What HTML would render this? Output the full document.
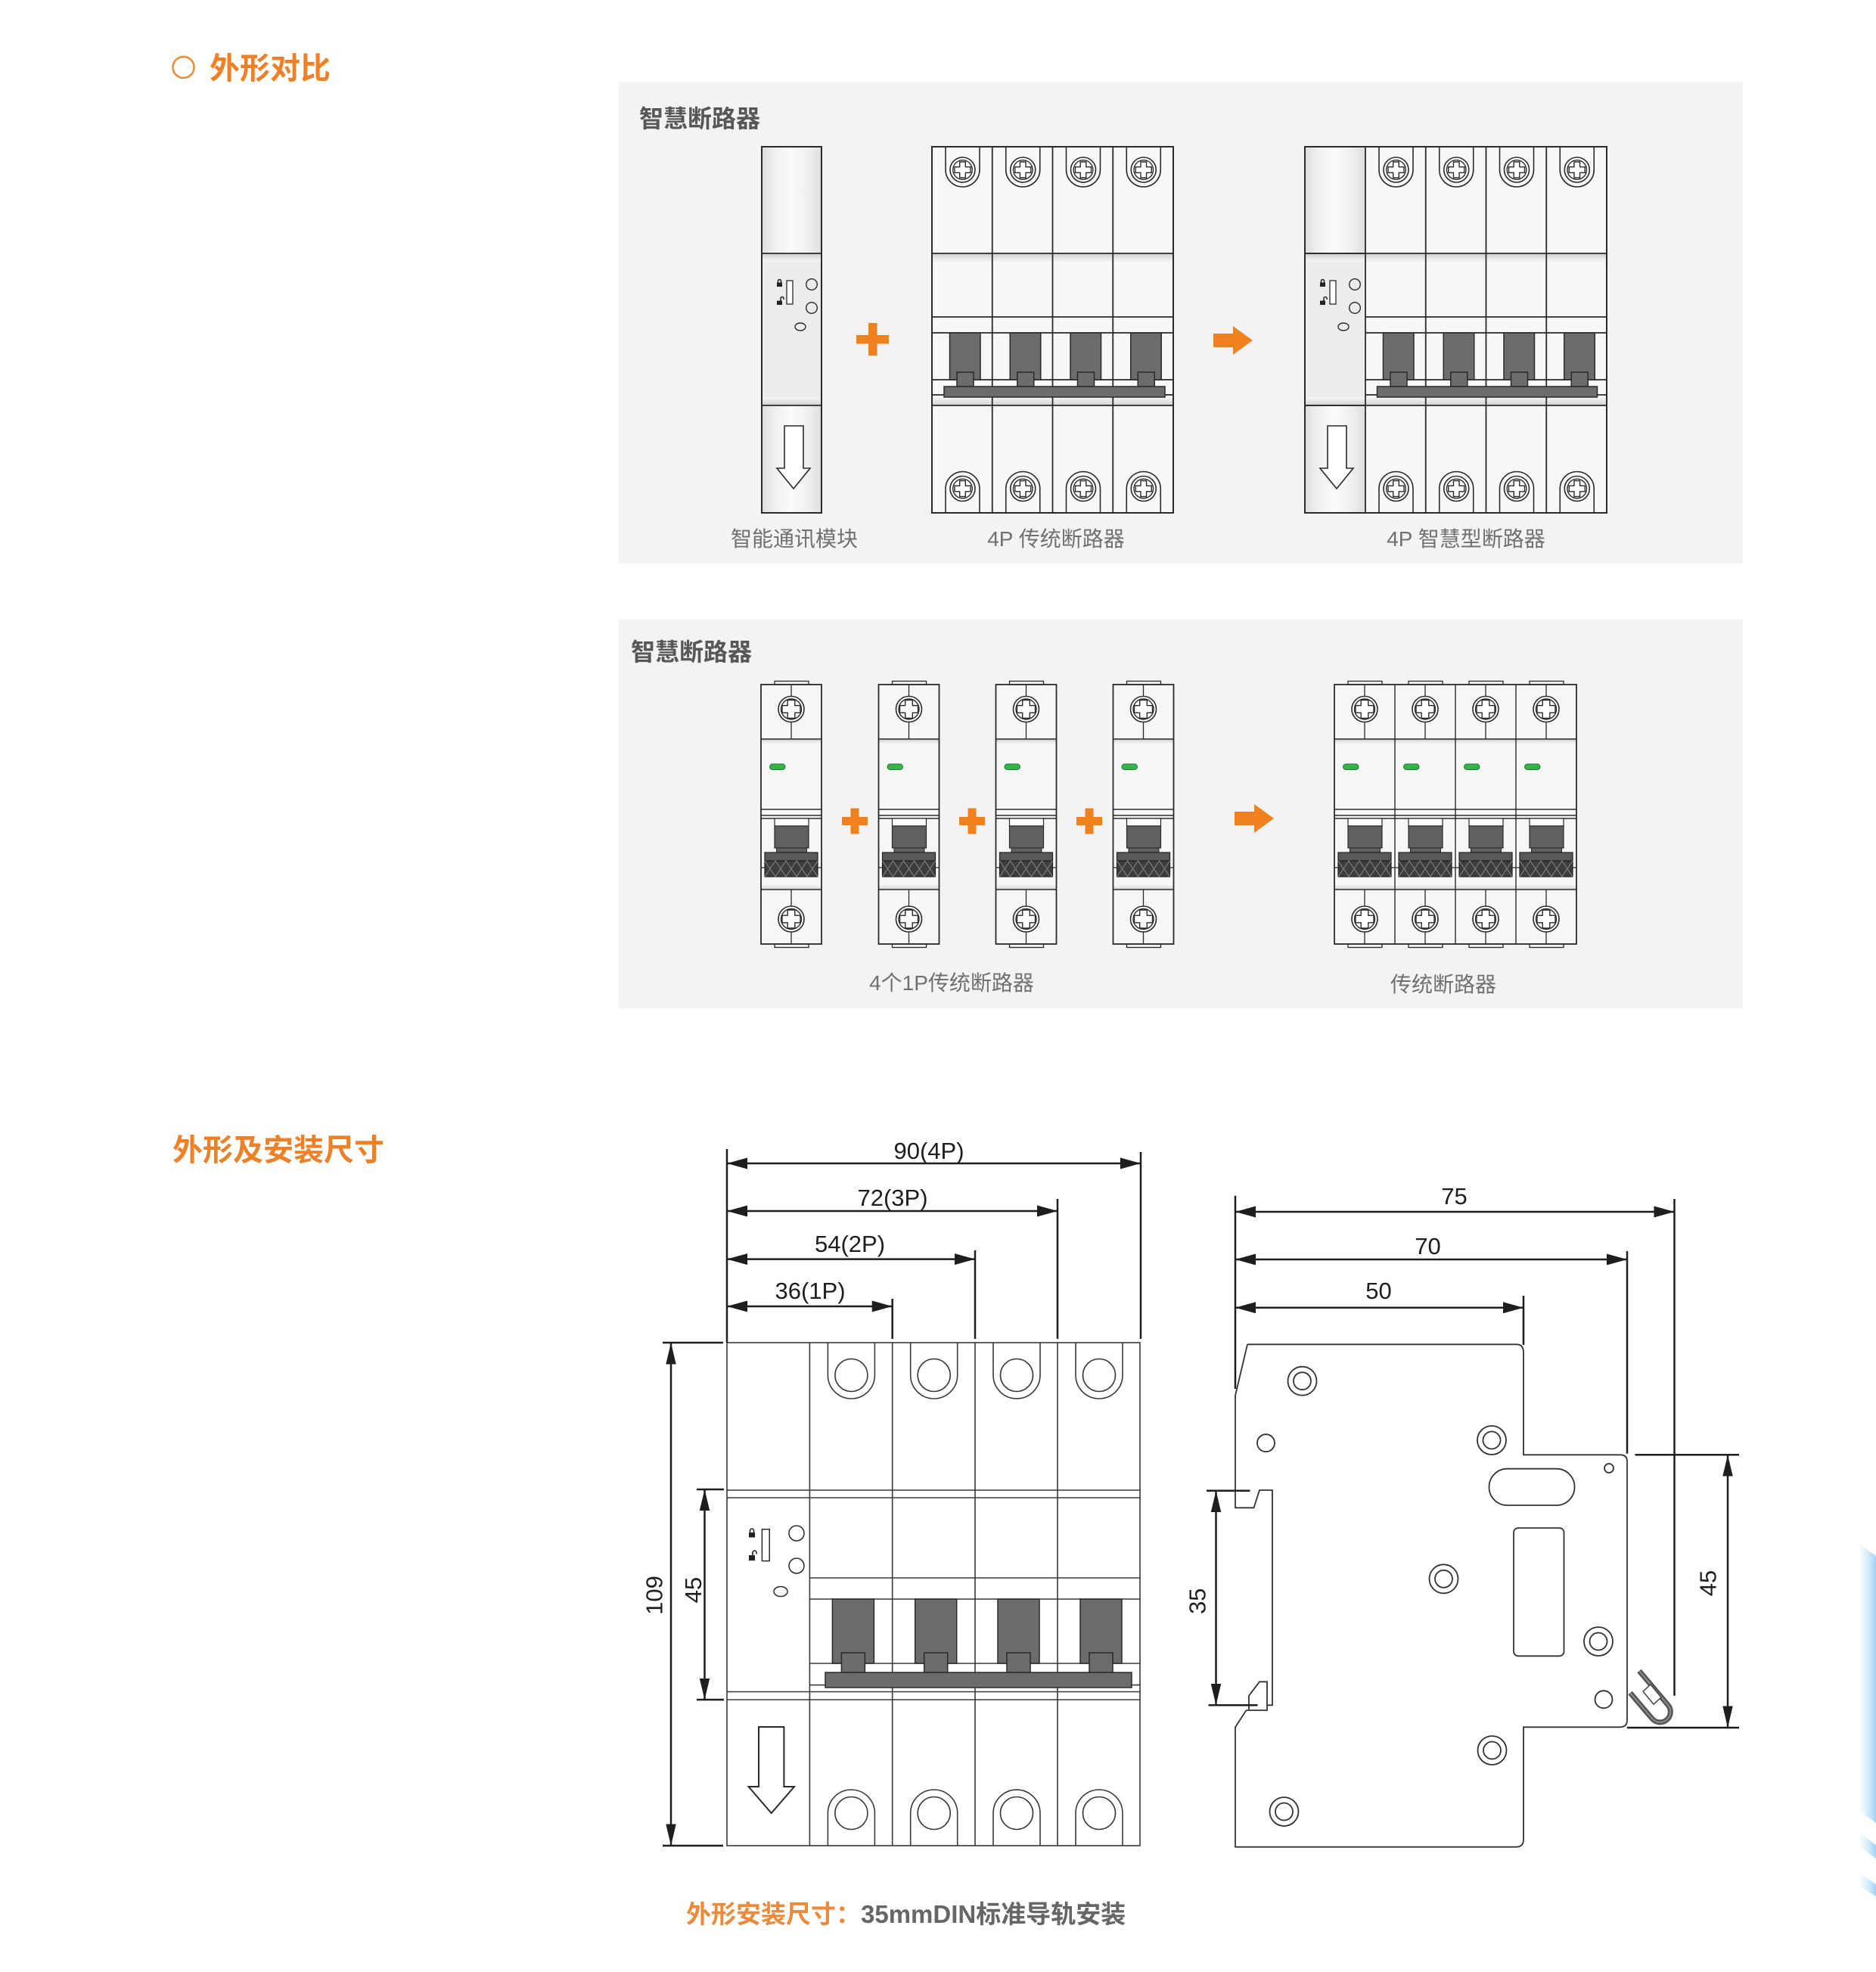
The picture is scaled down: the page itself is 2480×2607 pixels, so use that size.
<!DOCTYPE html>
<html><head><meta charset="utf-8">
<style>
html,body{margin:0;padding:0;background:#fff;}
body{width:2480px;height:2607px;position:relative;overflow:hidden;}
svg{position:absolute;left:0;top:0;}
text{font-family:"Liberation Sans","Noto Sans CJK SC",sans-serif;}
</style></head><body>
<svg width="2480" height="2607" viewBox="0 0 2480 2607" xmlns="http://www.w3.org/2000/svg">
<defs>
 <linearGradient id="bd" x1="0" y1="0" x2="0" y2="1"><stop offset="0" stop-color="#cfcfcf"/><stop offset="1" stop-color="#f6f6f6"/></linearGradient>
 <linearGradient id="bu" x1="0" y1="0" x2="0" y2="1"><stop offset="0" stop-color="#f6f6f6"/><stop offset="1" stop-color="#d2d2d2"/></linearGradient>
 <linearGradient id="mg" x1="0" y1="0" x2="1" y2="0"><stop offset="0" stop-color="#dcdcdc"/><stop offset="0.2" stop-color="#efefef"/><stop offset="0.5" stop-color="#fbfbfb"/><stop offset="0.8" stop-color="#eeeeee"/><stop offset="1" stop-color="#dedede"/></linearGradient>
 <linearGradient id="blue" x1="0" y1="0" x2="1" y2="0"><stop offset="0" stop-color="#e4f3fc" stop-opacity="0.3"/><stop offset="1" stop-color="#9fd2f4"/></linearGradient>

 <g id="scr"><circle r="16.5" fill="#fff" stroke="#2a2a2a" stroke-width="1.6"/><circle r="12.8" fill="none" stroke="#2a2a2a" stroke-width="1.4"/><path d="M-3.8,-10.5H3.8V-3.8H10.5V3.8H3.8V10.5H-3.8V3.8H-10.5V-3.8H-3.8Z" fill="#fff" stroke="#2a2a2a" stroke-width="1.4"/></g>
 <g id="scr2"><circle r="17" fill="#fff" stroke="#2a2a2a" stroke-width="1.6"/><circle r="13.5" fill="none" stroke="#2a2a2a" stroke-width="1.4"/><path d="M-4.8,-12H4.8V-4.8H12V4.8H4.8V12H-4.8V4.8H-12V-4.8H-4.8Z" fill="#fff" stroke="#2a2a2a" stroke-width="1.4"/></g>

 <g id="pole1">
  <path d="M18,194V224.5A22.5,22.5 0 0 0 63,224.5V194" fill="none" stroke="#2a2a2a" stroke-width="1.6"/>
  <path d="M18,678V646A22.5,22.5 0 0 1 63,646V678" fill="none" stroke="#2a2a2a" stroke-width="1.6"/>
  <use href="#scr" x="40.5" y="224.5"/>
  <use href="#scr" x="40.5" y="646"/>
  <rect x="23.5" y="440" width="40.5" height="62" fill="#6b6c6e" stroke="#2a2a2a" stroke-width="1.5"/>
  <rect x="33" y="492" width="22" height="19" fill="#6b6c6e" stroke="#2a2a2a" stroke-width="1.5"/>
 </g>

 <g id="mod">
  <rect x="0" y="194" width="79" height="484" fill="url(#mg)"/>
  <rect x="0" y="335" width="79" height="201" fill="#ececec"/>
  <rect x="0" y="335" width="79" height="11" fill="url(#bd)"/>
  <rect x="0" y="525" width="79" height="11" fill="url(#bu)"/>
  <path d="M0,335H79M0,536H79" stroke="#2a2a2a" stroke-width="1.8"/>
  <rect x="20" y="373.5" width="7" height="5.5" fill="#222"/>
  <path d="M21.5,374V371.5A2,2 0 0 1 25.5,371.5V374" fill="none" stroke="#222" stroke-width="1.5"/>
  <rect x="20" y="397.5" width="7" height="5.5" fill="#222"/>
  <path d="M25,398V394.5A2,2 0 0 1 29,394.5V396" fill="none" stroke="#222" stroke-width="1.5"/>
  <rect x="33" y="371" width="8" height="31" fill="#fff" stroke="#2a2a2a" stroke-width="1.3"/>
  <circle cx="66" cy="376" r="7.3" fill="none" stroke="#2a2a2a" stroke-width="1.4"/>
  <circle cx="66" cy="407" r="7.3" fill="none" stroke="#2a2a2a" stroke-width="1.4"/>
  <ellipse cx="51" cy="432" rx="7" ry="5" fill="none" stroke="#2a2a2a" stroke-width="1.4"/>
  <path d="M30,563H55V619H64L42,646L20,619H30Z" fill="#fff" stroke="#2a2a2a" stroke-width="1.6"/>
 </g>

 <g id="c2">
  <rect x="18" y="900.5" width="45" height="4.5" fill="#f3f3f3" stroke="#2a2a2a" stroke-width="1.3"/>
  <rect x="18" y="1248" width="45" height="4.5" fill="#f3f3f3" stroke="#2a2a2a" stroke-width="1.3"/>
  <path d="M40,905V977M40,1176V1248" stroke="#2a2a2a" stroke-width="1.3"/>
  <use href="#scr2" x="40" y="937.5"/>
  <use href="#scr2" x="40" y="1215"/>
  <rect x="11.5" y="1010" width="20.5" height="7.5" rx="3.75" fill="#36b34a" stroke="#1f7d35" stroke-width="1"/>
  <rect x="18" y="1082" width="45" height="10" fill="#fbfbfb" stroke="#2a2a2a" stroke-width="1.2"/>
  <rect x="18" y="1092" width="45" height="29" fill="#5f6062" stroke="#2a2a2a" stroke-width="1.2"/>
  <rect x="20.5" y="1121" width="40" height="6" fill="#5f6062" stroke="#2a2a2a" stroke-width="1"/>
  <path d="M0,1147H80" stroke="#2a2a2a" stroke-width="1.3"/>
  <rect x="5" y="1127" width="70" height="11" fill="#58595b" stroke="#222" stroke-width="1.2"/>
  <rect x="5" y="1138" width="70" height="21" fill="#3d3d3f" stroke="#222" stroke-width="1.2"/>
  <path d="M5,1138L19,1159L33,1138L47,1159L61,1138L75,1159M5,1159L19,1138L33,1159L47,1138L61,1159L75,1138" fill="none" stroke="#7a7a7a" stroke-width="1.2"/>
 </g>

 <g id="b1">
  <rect x="0" y="905" width="80" height="343" fill="#f6f6f6"/>
  <rect x="0" y="977" width="80" height="6" fill="url(#bd)"/>
  <rect x="0" y="1170" width="80" height="6" fill="url(#bu)"/>
  <path d="M0,977H80M0,1070H80M0,1078H80M0,1082H80M0,1176H80" stroke="#2a2a2a" stroke-width="1.4"/>
  <use href="#c2"/>
  <rect x="0" y="905" width="80" height="343" fill="none" stroke="#2a2a2a" stroke-width="1.8"/>
 </g>
</defs>

<!-- Title 1 -->
<circle cx="242.5" cy="89" r="14" fill="none" stroke="#ee8a34" stroke-width="2.5"/>
<text x="277" y="104" font-size="40" font-weight="700" fill="#ee8127">外形对比</text>

<!-- Panel 1 -->
<rect x="818" y="108" width="1486" height="637" fill="#f2f3f5"/>
<text x="845" y="168" font-size="32" font-weight="700" fill="#575757">智慧断路器</text>

<!-- module -->
<use href="#mod" x="1007"/>
<rect x="1007" y="194" width="79" height="484" fill="none" stroke="#2a2a2a" stroke-width="2"/>

<!-- plus -->
<rect x="1132" y="443" width="43" height="11.5" fill="#f0821e"/>
<rect x="1148" y="427" width="11.5" height="43" fill="#f0821e"/>

<!-- 4P traditional -->
<rect x="1232" y="194" width="319" height="484" fill="#f7f7f7"/>
<rect x="1232" y="335" width="319" height="11" fill="url(#bd)"/>
<rect x="1232" y="525" width="319" height="11" fill="url(#bu)"/>
<path d="M1232,335H1551M1232,419H1551M1232,440H1551M1232,502H1551M1232,522H1551M1232,536H1551M1311.75,194V678M1391.5,194V678M1471.25,194V678" stroke="#2a2a2a" stroke-width="1.8" fill="none"/>
<use href="#pole1" x="1232"/>
<use href="#pole1" x="1311.75"/>
<use href="#pole1" x="1391.5"/>
<use href="#pole1" x="1471.25"/>
<rect x="1248" y="511" width="292" height="14" fill="#6b6c6e" stroke="#2a2a2a" stroke-width="1.5"/>
<rect x="1232" y="194" width="319" height="484" fill="none" stroke="#2a2a2a" stroke-width="2"/>

<!-- arrow -->
<path d="M1604,441H1630V431L1656,450L1630,469V459H1604Z" fill="#f0821e"/>

<!-- 4P smart -->
<rect x="1805" y="194" width="319" height="484" fill="#f7f7f7"/>
<rect x="1805" y="335" width="319" height="11" fill="url(#bd)"/>
<rect x="1805" y="525" width="319" height="11" fill="url(#bu)"/>
<use href="#mod" x="1725"/>
<path d="M1725,335H2124M1805,419H2124M1805,440H2124M1805,502H2124M1805,522H2124M1725,536H2124M1805,194V678M1884.75,194V678M1964.5,194V678M2044.25,194V678" stroke="#2a2a2a" stroke-width="1.8" fill="none"/>
<use href="#pole1" x="1805"/>
<use href="#pole1" x="1884.75"/>
<use href="#pole1" x="1964.5"/>
<use href="#pole1" x="2044.25"/>
<rect x="1820.5" y="511" width="291" height="14" fill="#6b6c6e" stroke="#2a2a2a" stroke-width="1.5"/>
<rect x="1725" y="194" width="399" height="484" fill="none" stroke="#2a2a2a" stroke-width="2"/>

<g font-size="28" fill="#707070" text-anchor="middle">
<text x="1050" y="722">智能通讯模块</text>
<text x="1396" y="722">4P 传统断路器</text>
<text x="1938" y="722">4P 智慧型断路器</text>
</g>

<!-- Panel 2 -->
<rect x="818" y="819" width="1486" height="514" fill="#f2f3f5"/>
<text x="834" y="873" font-size="32" font-weight="700" fill="#575757">智慧断路器</text>

<use href="#b1" x="1006"/>
<use href="#b1" x="1161.5"/>
<use href="#b1" x="1316.5"/>
<use href="#b1" x="1471.5"/>

<g fill="#f0821e">
<rect x="1113" y="1080" width="34" height="11"/><rect x="1124.5" y="1068.5" width="11" height="34"/>
<rect x="1268" y="1080" width="34" height="11"/><rect x="1279.5" y="1068.5" width="11" height="34"/>
<rect x="1423" y="1080" width="34" height="11"/><rect x="1434.5" y="1068.5" width="11" height="34"/>
<path d="M1632,1073H1658V1063L1684,1082L1658,1101V1091H1632Z"/>
</g>

<!-- 4P traditional panel 2 -->
<rect x="1764" y="905" width="320" height="343" fill="#f6f6f6"/>
<rect x="1764" y="977" width="320" height="6" fill="url(#bd)"/>
<rect x="1764" y="1170" width="320" height="6" fill="url(#bu)"/>
<path d="M1764,977H2084M1764,1070H2084M1764,1078H2084M1764,1082H2084M1764,1176H2084M1844,905V1248M1924,905V1248M2004,905V1248" stroke="#2a2a2a" stroke-width="1.4"/>
<use href="#c2" x="1764"/>
<use href="#c2" x="1844"/>
<use href="#c2" x="1924"/>
<use href="#c2" x="2004"/>
<rect x="1764" y="905" width="320" height="343" fill="none" stroke="#2a2a2a" stroke-width="1.8"/>

<g font-size="28" fill="#707070" text-anchor="middle">
<text x="1258" y="1309">4个1P传统断路器</text>
<text x="1908" y="1311">传统断路器</text>
</g>

<!-- Title 2 -->
<text x="228" y="1534" font-size="40" font-weight="700" fill="#ee8127">外形及安装尺寸</text>

<!-- Front view -->
<g stroke="#3a3a3a" stroke-width="1.6" fill="none">
<rect x="961" y="1775" width="546" height="665" fill="#fff"/>
<path d="M1070.4,1775V2440M1179.7,1775V2440M1289,1775V2440M1398,1775V2440"/>
<path d="M961,1970H1507M961,1980H1507M961,2236.5H1507M961,2247H1507"/>
<path d="M1070.4,2086H1507M1070.4,2114H1507M1070.4,2199H1507M1070.4,2227.6H1507"/>
<path d="M1094.4,1775V1818A31,31 0 0 0 1156.4,1818V1775M1203.7,1775V1818A31,31 0 0 0 1265.7,1818V1775M1313,1775V1818A31,31 0 0 0 1375,1818V1775M1422,1775V1818A31,31 0 0 0 1484,1818V1775"/>
<circle cx="1125.4" cy="1818" r="21.5"/><circle cx="1234.7" cy="1818" r="21.5"/><circle cx="1344" cy="1818" r="21.5"/><circle cx="1453" cy="1818" r="21.5"/>
<path d="M1094.4,2440V2397A31,31 0 0 1 1156.4,2397V2440M1203.7,2440V2397A31,31 0 0 1 1265.7,2397V2440M1313,2440V2397A31,31 0 0 1 1375,2397V2440M1422,2440V2397A31,31 0 0 1 1484,2397V2440"/>
<circle cx="1125.4" cy="2397" r="21.5"/><circle cx="1234.7" cy="2397" r="21.5"/><circle cx="1344" cy="2397" r="21.5"/><circle cx="1453" cy="2397" r="21.5"/>
</g>
<g fill="#6b6c6e" stroke="#2a2a2a" stroke-width="1.5">
<rect x="1100.4" y="2114" width="55" height="85"/><rect x="1209.7" y="2114" width="55" height="85"/><rect x="1319" y="2114" width="55" height="85"/><rect x="1428" y="2114" width="55" height="85"/>
<rect x="1112.4" y="2185" width="31" height="26"/><rect x="1221.7" y="2185" width="31" height="26"/><rect x="1331" y="2185" width="31" height="26"/><rect x="1440" y="2185" width="31" height="26"/>
<rect x="1091" y="2211" width="405" height="20"/>
</g>
<!-- module items front -->
<rect x="990" y="2026" width="8" height="6.5" fill="#222"/>
<path d="M991.5,2026.5V2023.5A2.5,2.5 0 0 1 996.5,2023.5V2026.5" fill="none" stroke="#222" stroke-width="1.6"/>
<rect x="990" y="2056" width="8" height="7" fill="#222"/>
<path d="M995,2056.5V2052.5A2.5,2.5 0 0 1 1000,2052.5V2054.5" fill="none" stroke="#222" stroke-width="1.6"/>
<g fill="none" stroke="#2a2a2a" stroke-width="1.5">
<rect x="1007.4" y="2021.7" width="9.8" height="41.9" fill="#fff"/>
<circle cx="1053" cy="2027" r="10"/><circle cx="1053" cy="2070" r="10"/>
<ellipse cx="1032" cy="2104" rx="9" ry="6.5"/>
<path d="M1003,2283H1036.4V2362H1050L1019.7,2397L989.6,2362H1003Z" fill="#fff" stroke-width="2"/>
</g>

<!-- front dims -->
<g stroke="#1e1e1e" stroke-width="2.5" fill="none">
<path d="M961,1519V1775M1508,1523V1770M1398,1585V1770M1289,1653V1770M1179.7,1717V1770"/>
<path d="M961,1538H1508M961,1601H1398M961,1664.6H1289M961,1727H1179.7"/>
<path d="M887,1775V2440M876,1775H956M876,2440H956M931.5,1969V2247M921,1969H957M921,2247H957"/>
</g>
<g fill="#1e1e1e">
<path d="M961,1538L988,1530.5V1545.5ZM1508,1538L1481,1530.5V1545.5Z"/>
<path d="M961,1601L988,1593.5V1608.5ZM1398,1601L1371,1593.5V1608.5Z"/>
<path d="M961,1664.6L988,1657.1V1672.1ZM1289,1664.6L1262,1657.1V1672.1Z"/>
<path d="M961,1727L988,1719.5V1734.5ZM1179.7,1727L1152.7,1719.5V1734.5Z"/>
<path d="M887,1775L880.3,1803.5H893.7ZM887,2440L880.3,2411.5H893.7Z"/>
<path d="M931.5,1969L924.8,1997H938.2ZM931.5,2247L924.8,2219H938.2Z"/>
</g>
<g font-size="31" fill="#1e1e1e" text-anchor="middle">
<text x="1228" y="1532">90(4P)</text>
<text x="1180" y="1594">72(3P)</text>
<text x="1123.5" y="1655">54(2P)</text>
<text x="1071" y="1717">36(1P)</text>
<text transform="translate(864.5,2109) rotate(-90)" y="11">109</text>
<text transform="translate(916,2102) rotate(-90)" y="11">45</text>
<text x="1922.5" y="1592">75</text>
<text x="1887.5" y="1658">70</text>
<text x="1822.5" y="1717">50</text>
<text transform="translate(1582.5,2116.7) rotate(-90)" y="11">35</text>
<text transform="translate(2257.5,2093) rotate(-90)" y="11">45</text>
</g>

<!-- Side view -->
<g stroke="#333" stroke-width="1.8" fill="none">
<path d="M1649,1777.3H2005Q2014,1777.3 2014,1788V1923.3H2142Q2151,1923.3 2151,1932V2274Q2151,2283.3 2141,2283.3H2014V2432Q2014,2441.7 2004,2441.7H1633V2283.3L1647.5,2261" fill="#fff"/>
<path d="M1649,1777.3L1633,1845V1993.3H1657.5L1665,1970H1682V2254.3H1675"/>
<path d="M1647.5,2261H1675V2223.3H1665L1651,2241.7V2261"/>
<circle cx="1721.5" cy="1825.7" r="19"/><circle cx="1721.5" cy="1825.7" r="11.5"/>
<circle cx="1673.5" cy="1907.7" r="11.5"/>
<circle cx="1972" cy="1904" r="19"/><circle cx="1972" cy="1904" r="11.5"/>
<circle cx="2127" cy="1941" r="6"/>
<rect x="1968.5" y="1941.7" width="113" height="48.3" rx="24"/>
<circle cx="1908.5" cy="2087.3" r="19"/><circle cx="1908.5" cy="2087.3" r="11.5"/>
<rect x="2001" y="2020" width="66.5" height="169.3" rx="6"/>
<circle cx="2113" cy="2170" r="19"/><circle cx="2113" cy="2170" r="11.5"/>
<circle cx="2120" cy="2246.7" r="11.5"/>
<circle cx="1972.5" cy="2314" r="19"/><circle cx="1972.5" cy="2314" r="11.5"/>
<circle cx="1697.5" cy="2395" r="19"/><circle cx="1697.5" cy="2395" r="11.5"/>
</g>
<!-- hook -->
<path d="M2167,2209L2205,2254A13,13 0 0 1 2184,2272L2155,2238" fill="none" stroke="#555" stroke-width="7"/>
<path d="M2167,2209L2205,2254A13,13 0 0 1 2184,2272L2155,2238" fill="none" stroke="#8a8a8a" stroke-width="2"/>
<path d="M2172,2236L2182,2227L2196,2244L2186,2253Z" fill="#fff" stroke="#444" stroke-width="1.5"/>

<!-- side dims -->
<g stroke="#1e1e1e" stroke-width="2.5" fill="none">
<path d="M1633,1580.7V1836M2213.5,1585V2241.7M2151,1654V1921.7M2014,1713V1778"/>
<path d="M1633,1602H2213.5M1633,1665H2151M1633,1728.7H2014"/>
<path d="M1607.5,1970.7V2254.3M1595,1970.7H1652.5M1597.5,2254.3H1662.5"/>
<path d="M2284,1923.3V2284M2161.5,1923.3H2299M2151,2284H2299"/>
</g>
<g fill="#1e1e1e">
<path d="M1633,1602L1660,1594.5V1609.5ZM2213.5,1602L2186.5,1594.5V1609.5Z"/>
<path d="M1633,1665L1660,1657.5V1672.5ZM2151,1665L2124,1657.5V1672.5Z"/>
<path d="M1633,1728.7L1660,1721.2V1736.2ZM2014,1728.7L1987,1721.2V1736.2Z"/>
<path d="M1607.5,1970.7L1600.8,1999H1614.2ZM1607.5,2254.3L1600.8,2226H1614.2Z"/>
<path d="M2284,1923.3L2277.3,1951.5H2290.7ZM2284,2284L2277.3,2255.5H2290.7Z"/>
</g>

<!-- caption -->
<text x="907" y="2542" font-size="33" font-weight="700"><tspan fill="#ea8a3a">外形安装尺寸：</tspan><tspan fill="#666666">35mmDIN标准导轨安装</tspan></text>

<!-- blue decoration -->
<path d="M2458,2041L2480,2057V2410L2458,2394Z" fill="url(#blue)"/>
<path d="M2458,2423L2480,2439V2457L2458,2441Z" fill="url(#blue)"/>
<path d="M2458,2476L2480,2491V2507L2458,2494Z" fill="url(#blue)"/>
</svg>
</body></html>
